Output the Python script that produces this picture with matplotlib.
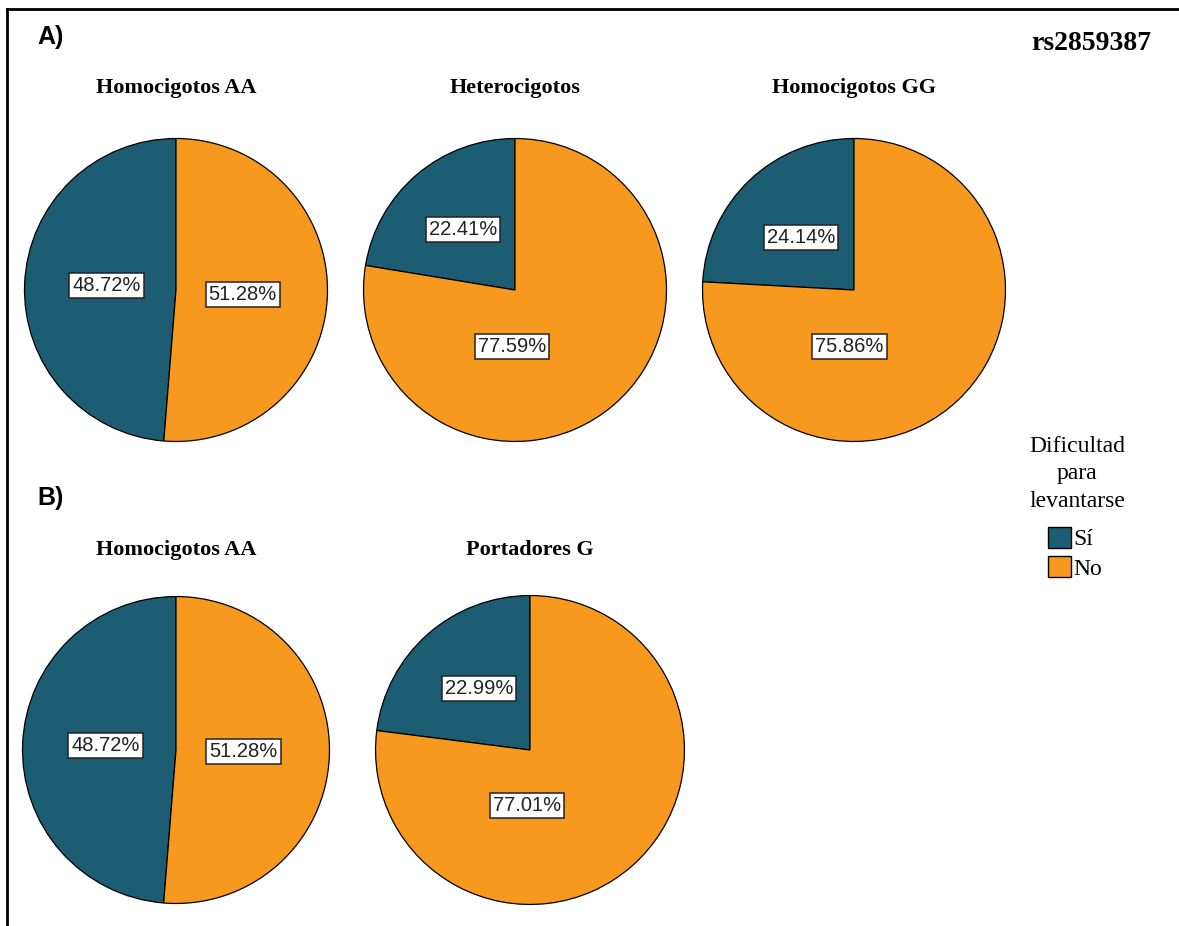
import matplotlib
matplotlib.use('Agg')
import matplotlib.pyplot as plt
from matplotlib.patches import Patch
from matplotlib.lines import Line2D

# Porcentajes por genotipo (Sí, No)
grupos_a = ["Homocigotos AA", "Heterocigotos", "Homocigotos GG"]
si_a = [48.72, 22.41, 24.14]
no_a = [51.28, 77.59, 75.86]

grupos_b = ["Homocigotos AA", "Portadores G"]
si_b = [48.72, 22.99]
no_b = [51.28, 77.01]

categorias = ["Sí", "No"]
colores = ["#1c5d74", "#f7991f"]

W, H = 1179, 926
fig = plt.figure(figsize=(W / 100, H / 100), dpi=100)

serif = "Liberation Serif"
sans = "Liberation Sans"


def pastel(cx, cy, r, si, no, titulo, ty, pos_etiquetas):
    # ejes cuadrados en pixeles, centrados en (cx, cy)
    ax = fig.add_axes([(cx - r) / W, (H - cy - r) / H, 2 * r / W, 2 * r / H])
    ax.pie([si, no], colors=colores, startangle=90, counterclock=True,
           radius=1, wedgeprops=dict(edgecolor="black", linewidth=0.9))
    ax.set_xlim(-1.01, 1.01)
    ax.set_ylim(-1.01, 1.01)
    ax.set_aspect("auto")
    ax.axis("off")
    for valor, (px, py) in zip([si, no], pos_etiquetas):
        ax.text(px, py, f"{valor:.2f}%", ha="center", va="center", fontsize=14.5,
                family=sans, color="#222222",
                bbox=dict(boxstyle="square,pad=0.15", fc="white", ec="#222222", lw=1.1))
    fig.text(cx / W, 1 - ty / H, titulo, ha="center", va="center", fontsize=16,
             fontweight="bold", family=serif)


# posicion de las etiquetas (fraccion del radio)
etq_a = [[(-0.46, 0.03), (0.44, -0.03)],
         [(-0.345, 0.40), (-0.02, -0.37)],
         [(-0.35, 0.345), (-0.03, -0.37)]]
etq_b = [[(-0.46, 0.03), (0.44, -0.01)],
         [(-0.33, 0.40), (-0.02, -0.36)]]

centros_a = [176, 515, 854]
for i in range(3):
    pastel(centros_a[i], 290, 153, si_a[i], no_a[i], grupos_a[i], 88, etq_a[i])

centros_b = [176, 530]
radios_b = [155, 156]
for i in range(2):
    pastel(centros_b[i], 750, radios_b[i], si_b[i], no_b[i], grupos_b[i], 550, etq_b[i])

fig.text(37 / W, 1 - 37 / H, "A)", fontsize=18, fontweight="bold", family=sans, va="center")
fig.text(37 / W, 1 - 498 / H, "B)", fontsize=18, fontweight="bold", family=sans, va="center")
fig.text(1151 / W, 1 - 43 / H, "rs2859387", fontsize=20, fontweight="bold", family=serif,
         ha="right", va="center")

# leyenda
fig.text(1077 / W, 1 - 474 / H, "Dificultad\npara\nlevantarse", fontsize=17, family=serif,
         ha="center", va="center", linespacing=1.4)
handles = [Patch(facecolor=c, edgecolor="black", linewidth=1.0) for c in colores]
fig.legend(handles, categorias, loc="upper left", bbox_to_anchor=(1036 / W, 1 - 515 / H),
           frameon=False, prop=dict(family=serif, size=17), handlelength=1.0,
           handleheight=1.0, handletextpad=0.1, labelspacing=0.25, borderpad=0)

# marco
fig.add_artist(Line2D([7 / W, 1], [1 - 9 / H, 1 - 9 / H], color="black", lw=2.0))
fig.add_artist(Line2D([7 / W, 7 / W], [0, 1 - 9 / H], color="black", lw=2.0))

fig.savefig("out.png", dpi=100, facecolor="white")
